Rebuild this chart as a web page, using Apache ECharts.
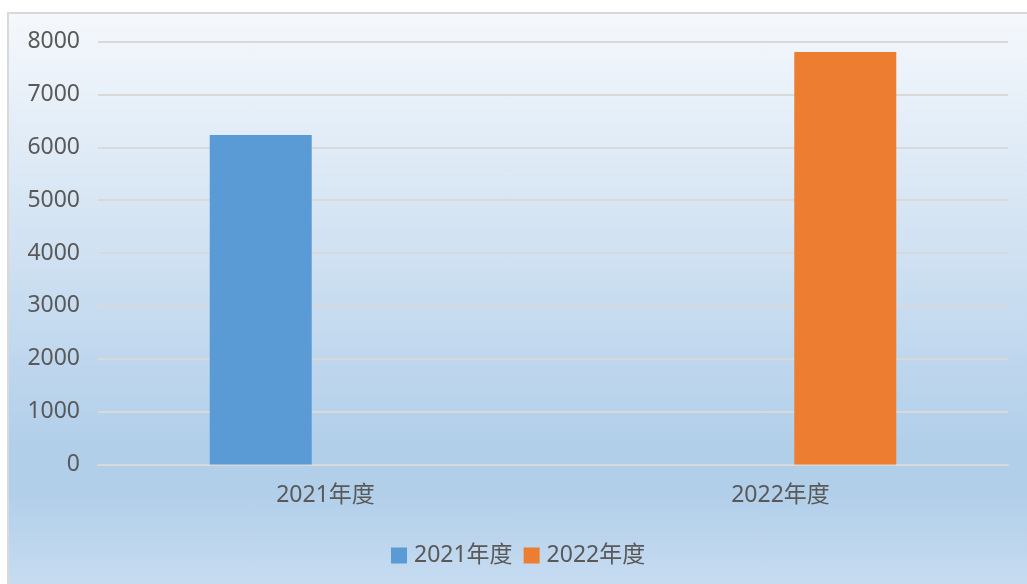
<!DOCTYPE html>
<html>
<head>
<meta charset="utf-8">
<script src="https://cdn.jsdelivr.net/npm/echarts@6/dist/echarts.min.js"></script>
<style>
html,
body {
  margin: 0;
  padding: 0;
  width: 1027px;
  height: 584px;
  overflow: hidden;
  background: #fff;
}
.frame {
  position: absolute;
  left: 7px;
  top: 12px;
  width: 1030px;
  height: 580px;
  border-top: 2px solid #d9d9d9;
  border-left: 2px solid #d9d9d9;
  background: linear-gradient(to bottom, #f5f8fc 0%, #b2cfea 74%, #b2cfea 83%, #c9ddf1 100%);
}
#main {
  position: absolute;
  left: 0;
  top: 0;
  width: 1027px;
  height: 584px;
}
</style>
</head>
<body>
<div class="frame"></div>
<div id="main"></div>
<script>
// 数据
const categories = ['2021年度', '2022年度']
const values2021 = [6230, '-']
const values2022 = ['-', 7800]
const seriesNames = ['2021年度', '2022年度']

const textColor = '#595959'
const fontFamily = '"Noto Sans", "Noto Sans CJK SC", sans-serif'

let chart = echarts.init(document.getElementById('main'))
chart.setOption({
  animation: false,
  backgroundColor: 'transparent',
  grid: {
    left: 98,
    right: 19,
    top: 41.5,
    bottom: 119.5,
  },
  legend: {
    left: 386,
    top: 539,
    itemWidth: 16,
    itemHeight: 16,
    itemGap: 11,
    icon: 'rect',
    textStyle: {
      color: textColor,
      fontSize: 23,
      fontFamily: fontFamily,
      padding: [0, 0, 0, 2],
    },
    data: seriesNames,
  },
  xAxis: {
    type: 'category',
    data: categories,
    axisLine: { lineStyle: { color: '#d9d9d9', width: 2 } },
    axisTick: { show: false },
    axisLabel: {
      color: textColor,
      fontSize: 23,
      fontFamily: fontFamily,
      margin: 19,
    },
  },
  yAxis: {
    type: 'value',
    min: 0,
    max: 8000,
    interval: 1000,
    axisLine: { show: false },
    axisTick: { show: false },
    axisLabel: {
      color: textColor,
      fontSize: 23,
      fontFamily: fontFamily,
      margin: 18,
      formatter: (v) => String(v),
    },
    splitLine: { lineStyle: { color: '#d9d9d9', width: 2 } },
  },
  series: [
    {
      name: seriesNames[0],
      type: 'bar',
      data: values2021,
      barWidth: 102,
      barGap: '27%',
      itemStyle: { color: '#5b9bd5' },
    },
    {
      name: seriesNames[1],
      type: 'bar',
      data: values2022,
      barWidth: 102,
      barGap: '27%',
      itemStyle: { color: '#ed7d31' },
    },
  ],
})
</script>
</body>
</html>
